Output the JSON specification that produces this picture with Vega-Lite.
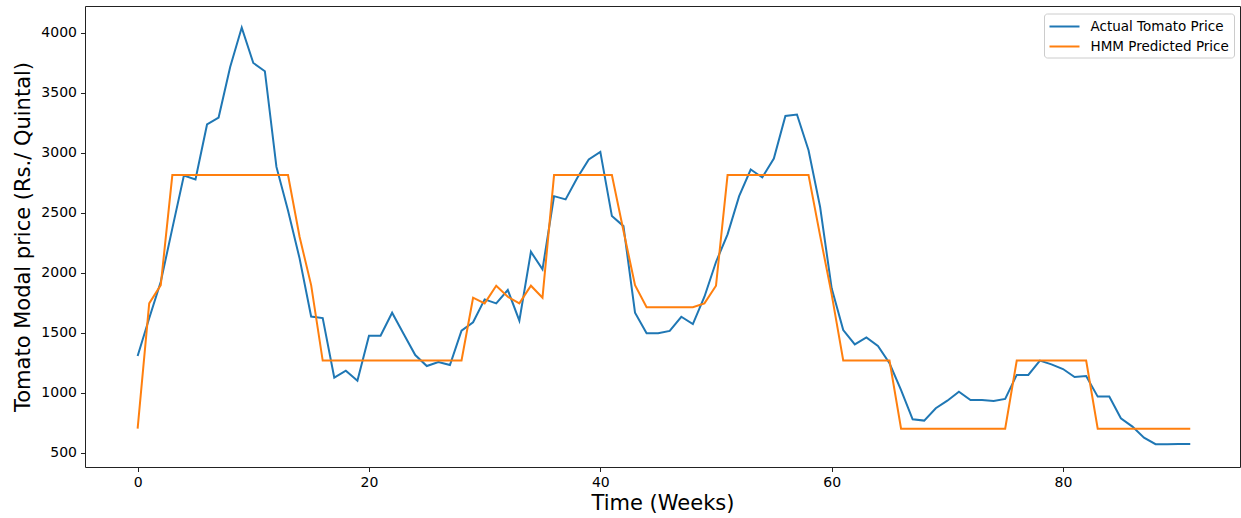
{
  "$schema": "https://vega.github.io/schema/vega-lite/v6.json",
  "autosize": {"type": "none"},
  "padding": {"left": 85, "top": 6, "right": 1, "bottom": 51},
  "width": 1155,
  "height": 461,
  "config": {
    "font": "DejaVu Sans",
    "view": {"stroke": "#222", "strokeWidth": 1},
    "axis": {
      "domain": false, "grid": false,
      "tickColor": "#222", "tickSize": 4.5, "tickWidth": 1,
      "labelFont": "DejaVu Sans", "labelFontSize": 14, "labelColor": "#000",
      "titleFont": "DejaVu Sans", "titleFontSize": 21, "titleFontWeight": "normal", "titleColor": "#000"
    }
  },
  "data": {"values": [
    {"week":0,"price":1306,"series":"Actual Tomato Price"},
    {"week":1,"price":1620,"series":"Actual Tomato Price"},
    {"week":2,"price":1925,"series":"Actual Tomato Price"},
    {"week":3,"price":2370,"series":"Actual Tomato Price"},
    {"week":4,"price":2810,"series":"Actual Tomato Price"},
    {"week":5,"price":2778,"series":"Actual Tomato Price"},
    {"week":6,"price":3237,"series":"Actual Tomato Price"},
    {"week":7,"price":3295,"series":"Actual Tomato Price"},
    {"week":8,"price":3717,"series":"Actual Tomato Price"},
    {"week":9,"price":4045,"series":"Actual Tomato Price"},
    {"week":10,"price":3750,"series":"Actual Tomato Price"},
    {"week":11,"price":3681,"series":"Actual Tomato Price"},
    {"week":12,"price":2883,"series":"Actual Tomato Price"},
    {"week":13,"price":2520,"series":"Actual Tomato Price"},
    {"week":14,"price":2120,"series":"Actual Tomato Price"},
    {"week":15,"price":1635,"series":"Actual Tomato Price"},
    {"week":16,"price":1622,"series":"Actual Tomato Price"},
    {"week":17,"price":1125,"series":"Actual Tomato Price"},
    {"week":18,"price":1183,"series":"Actual Tomato Price"},
    {"week":19,"price":1100,"series":"Actual Tomato Price"},
    {"week":20,"price":1475,"series":"Actual Tomato Price"},
    {"week":21,"price":1475,"series":"Actual Tomato Price"},
    {"week":22,"price":1667,"series":"Actual Tomato Price"},
    {"week":23,"price":1489,"series":"Actual Tomato Price"},
    {"week":24,"price":1314,"series":"Actual Tomato Price"},
    {"week":25,"price":1222,"series":"Actual Tomato Price"},
    {"week":26,"price":1256,"series":"Actual Tomato Price"},
    {"week":27,"price":1231,"series":"Actual Tomato Price"},
    {"week":28,"price":1517,"series":"Actual Tomato Price"},
    {"week":29,"price":1587,"series":"Actual Tomato Price"},
    {"week":30,"price":1778,"series":"Actual Tomato Price"},
    {"week":31,"price":1745,"series":"Actual Tomato Price"},
    {"week":32,"price":1856,"series":"Actual Tomato Price"},
    {"week":33,"price":1600,"series":"Actual Tomato Price"},
    {"week":34,"price":2175,"series":"Actual Tomato Price"},
    {"week":35,"price":2028,"series":"Actual Tomato Price"},
    {"week":36,"price":2639,"series":"Actual Tomato Price"},
    {"week":37,"price":2612,"series":"Actual Tomato Price"},
    {"week":38,"price":2790,"series":"Actual Tomato Price"},
    {"week":39,"price":2945,"series":"Actual Tomato Price"},
    {"week":40,"price":3008,"series":"Actual Tomato Price"},
    {"week":41,"price":2473,"series":"Actual Tomato Price"},
    {"week":42,"price":2389,"series":"Actual Tomato Price"},
    {"week":43,"price":1667,"series":"Actual Tomato Price"},
    {"week":44,"price":1495,"series":"Actual Tomato Price"},
    {"week":45,"price":1495,"series":"Actual Tomato Price"},
    {"week":46,"price":1515,"series":"Actual Tomato Price"},
    {"week":47,"price":1633,"series":"Actual Tomato Price"},
    {"week":48,"price":1572,"series":"Actual Tomato Price"},
    {"week":49,"price":1800,"series":"Actual Tomato Price"},
    {"week":50,"price":2090,"series":"Actual Tomato Price"},
    {"week":51,"price":2320,"series":"Actual Tomato Price"},
    {"week":52,"price":2639,"series":"Actual Tomato Price"},
    {"week":53,"price":2861,"series":"Actual Tomato Price"},
    {"week":54,"price":2795,"series":"Actual Tomato Price"},
    {"week":55,"price":2953,"series":"Actual Tomato Price"},
    {"week":56,"price":3308,"series":"Actual Tomato Price"},
    {"week":57,"price":3320,"series":"Actual Tomato Price"},
    {"week":58,"price":3022,"series":"Actual Tomato Price"},
    {"week":59,"price":2550,"series":"Actual Tomato Price"},
    {"week":60,"price":1870,"series":"Actual Tomato Price"},
    {"week":61,"price":1522,"series":"Actual Tomato Price"},
    {"week":62,"price":1403,"series":"Actual Tomato Price"},
    {"week":63,"price":1461,"series":"Actual Tomato Price"},
    {"week":64,"price":1389,"series":"Actual Tomato Price"},
    {"week":65,"price":1245,"series":"Actual Tomato Price"},
    {"week":66,"price":1022,"series":"Actual Tomato Price"},
    {"week":67,"price":778,"series":"Actual Tomato Price"},
    {"week":68,"price":767,"series":"Actual Tomato Price"},
    {"week":69,"price":870,"series":"Actual Tomato Price"},
    {"week":70,"price":933,"series":"Actual Tomato Price"},
    {"week":71,"price":1008,"series":"Actual Tomato Price"},
    {"week":72,"price":939,"series":"Actual Tomato Price"},
    {"week":73,"price":939,"series":"Actual Tomato Price"},
    {"week":74,"price":931,"series":"Actual Tomato Price"},
    {"week":75,"price":948,"series":"Actual Tomato Price"},
    {"week":76,"price":1148,"series":"Actual Tomato Price"},
    {"week":77,"price":1148,"series":"Actual Tomato Price"},
    {"week":78,"price":1267,"series":"Actual Tomato Price"},
    {"week":79,"price":1236,"series":"Actual Tomato Price"},
    {"week":80,"price":1197,"series":"Actual Tomato Price"},
    {"week":81,"price":1131,"series":"Actual Tomato Price"},
    {"week":82,"price":1139,"series":"Actual Tomato Price"},
    {"week":83,"price":967,"series":"Actual Tomato Price"},
    {"week":84,"price":967,"series":"Actual Tomato Price"},
    {"week":85,"price":786,"series":"Actual Tomato Price"},
    {"week":86,"price":717,"series":"Actual Tomato Price"},
    {"week":87,"price":625,"series":"Actual Tomato Price"},
    {"week":88,"price":570,"series":"Actual Tomato Price"},
    {"week":89,"price":570,"series":"Actual Tomato Price"},
    {"week":90,"price":572,"series":"Actual Tomato Price"},
    {"week":91,"price":572,"series":"Actual Tomato Price"},
    {"week":0,"price":700,"series":"HMM Predicted Price"},
    {"week":1,"price":1745,"series":"HMM Predicted Price"},
    {"week":2,"price":1897,"series":"HMM Predicted Price"},
    {"week":3,"price":2815,"series":"HMM Predicted Price"},
    {"week":4,"price":2815,"series":"HMM Predicted Price"},
    {"week":5,"price":2815,"series":"HMM Predicted Price"},
    {"week":6,"price":2815,"series":"HMM Predicted Price"},
    {"week":7,"price":2815,"series":"HMM Predicted Price"},
    {"week":8,"price":2815,"series":"HMM Predicted Price"},
    {"week":9,"price":2815,"series":"HMM Predicted Price"},
    {"week":10,"price":2815,"series":"HMM Predicted Price"},
    {"week":11,"price":2815,"series":"HMM Predicted Price"},
    {"week":12,"price":2815,"series":"HMM Predicted Price"},
    {"week":13,"price":2815,"series":"HMM Predicted Price"},
    {"week":14,"price":2300,"series":"HMM Predicted Price"},
    {"week":15,"price":1897,"series":"HMM Predicted Price"},
    {"week":16,"price":1268,"series":"HMM Predicted Price"},
    {"week":17,"price":1268,"series":"HMM Predicted Price"},
    {"week":18,"price":1268,"series":"HMM Predicted Price"},
    {"week":19,"price":1268,"series":"HMM Predicted Price"},
    {"week":20,"price":1268,"series":"HMM Predicted Price"},
    {"week":21,"price":1268,"series":"HMM Predicted Price"},
    {"week":22,"price":1268,"series":"HMM Predicted Price"},
    {"week":23,"price":1268,"series":"HMM Predicted Price"},
    {"week":24,"price":1268,"series":"HMM Predicted Price"},
    {"week":25,"price":1268,"series":"HMM Predicted Price"},
    {"week":26,"price":1268,"series":"HMM Predicted Price"},
    {"week":27,"price":1268,"series":"HMM Predicted Price"},
    {"week":28,"price":1268,"series":"HMM Predicted Price"},
    {"week":29,"price":1792,"series":"HMM Predicted Price"},
    {"week":30,"price":1745,"series":"HMM Predicted Price"},
    {"week":31,"price":1892,"series":"HMM Predicted Price"},
    {"week":32,"price":1800,"series":"HMM Predicted Price"},
    {"week":33,"price":1745,"series":"HMM Predicted Price"},
    {"week":34,"price":1892,"series":"HMM Predicted Price"},
    {"week":35,"price":1792,"series":"HMM Predicted Price"},
    {"week":36,"price":2815,"series":"HMM Predicted Price"},
    {"week":37,"price":2815,"series":"HMM Predicted Price"},
    {"week":38,"price":2815,"series":"HMM Predicted Price"},
    {"week":39,"price":2815,"series":"HMM Predicted Price"},
    {"week":40,"price":2815,"series":"HMM Predicted Price"},
    {"week":41,"price":2815,"series":"HMM Predicted Price"},
    {"week":42,"price":2350,"series":"HMM Predicted Price"},
    {"week":43,"price":1897,"series":"HMM Predicted Price"},
    {"week":44,"price":1712,"series":"HMM Predicted Price"},
    {"week":45,"price":1712,"series":"HMM Predicted Price"},
    {"week":46,"price":1712,"series":"HMM Predicted Price"},
    {"week":47,"price":1712,"series":"HMM Predicted Price"},
    {"week":48,"price":1712,"series":"HMM Predicted Price"},
    {"week":49,"price":1745,"series":"HMM Predicted Price"},
    {"week":50,"price":1892,"series":"HMM Predicted Price"},
    {"week":51,"price":2815,"series":"HMM Predicted Price"},
    {"week":52,"price":2815,"series":"HMM Predicted Price"},
    {"week":53,"price":2815,"series":"HMM Predicted Price"},
    {"week":54,"price":2815,"series":"HMM Predicted Price"},
    {"week":55,"price":2815,"series":"HMM Predicted Price"},
    {"week":56,"price":2815,"series":"HMM Predicted Price"},
    {"week":57,"price":2815,"series":"HMM Predicted Price"},
    {"week":58,"price":2815,"series":"HMM Predicted Price"},
    {"week":59,"price":2310,"series":"HMM Predicted Price"},
    {"week":60,"price":1820,"series":"HMM Predicted Price"},
    {"week":61,"price":1268,"series":"HMM Predicted Price"},
    {"week":62,"price":1268,"series":"HMM Predicted Price"},
    {"week":63,"price":1268,"series":"HMM Predicted Price"},
    {"week":64,"price":1268,"series":"HMM Predicted Price"},
    {"week":65,"price":1268,"series":"HMM Predicted Price"},
    {"week":66,"price":700,"series":"HMM Predicted Price"},
    {"week":67,"price":700,"series":"HMM Predicted Price"},
    {"week":68,"price":700,"series":"HMM Predicted Price"},
    {"week":69,"price":700,"series":"HMM Predicted Price"},
    {"week":70,"price":700,"series":"HMM Predicted Price"},
    {"week":71,"price":700,"series":"HMM Predicted Price"},
    {"week":72,"price":700,"series":"HMM Predicted Price"},
    {"week":73,"price":700,"series":"HMM Predicted Price"},
    {"week":74,"price":700,"series":"HMM Predicted Price"},
    {"week":75,"price":700,"series":"HMM Predicted Price"},
    {"week":76,"price":1268,"series":"HMM Predicted Price"},
    {"week":77,"price":1268,"series":"HMM Predicted Price"},
    {"week":78,"price":1268,"series":"HMM Predicted Price"},
    {"week":79,"price":1268,"series":"HMM Predicted Price"},
    {"week":80,"price":1268,"series":"HMM Predicted Price"},
    {"week":81,"price":1268,"series":"HMM Predicted Price"},
    {"week":82,"price":1268,"series":"HMM Predicted Price"},
    {"week":83,"price":700,"series":"HMM Predicted Price"},
    {"week":84,"price":700,"series":"HMM Predicted Price"},
    {"week":85,"price":700,"series":"HMM Predicted Price"},
    {"week":86,"price":700,"series":"HMM Predicted Price"},
    {"week":87,"price":700,"series":"HMM Predicted Price"},
    {"week":88,"price":700,"series":"HMM Predicted Price"},
    {"week":89,"price":700,"series":"HMM Predicted Price"},
    {"week":90,"price":700,"series":"HMM Predicted Price"},
    {"week":91,"price":700,"series":"HMM Predicted Price"}
  ]},
  "mark": {"type": "line", "strokeWidth": 2, "clip": true},
  "encoding": {
    "x": {
      "field": "week", "type": "quantitative",
      "scale": {"domain": [-4.55, 95.3], "nice": false, "zero": false},
      "axis": {"title": "Time (Weeks)", "values": [0, 20, 40, 60, 80], "format": "d", "labelPadding": 4, "titlePadding": 3}
    },
    "y": {
      "field": "price", "type": "quantitative",
      "scale": {"domain": [380, 4225], "nice": false, "zero": false},
      "axis": {"title": "Tomato Modal price (Rs./ Quintal)", "values": [500, 1000, 1500, 2000, 2500, 3000, 3500, 4000], "format": "d", "labelPadding": 4, "titlePadding": 7}
    },
    "color": {
      "field": "series", "type": "nominal",
      "scale": {"domain": ["Actual Tomato Price", "HMM Predicted Price"], "range": ["#1f77b4", "#ff7f0e"]},
      "legend": {
        "title": null, "orient": "none", "legendX": 959, "legendY": 7.5,
        "symbolType": "M-1,0H3", "symbolSize": 225, "symbolStrokeWidth": 2,
        "labelFont": "DejaVu Sans", "labelFontSize": 13.5, "labelColor": "#000",
        "labelOffset": 25, "rowPadding": 5,
        "strokeColor": "#cccccc", "fillColor": "#ffffff", "cornerRadius": 3, "padding": 4.5
      }
    }
  }
}
